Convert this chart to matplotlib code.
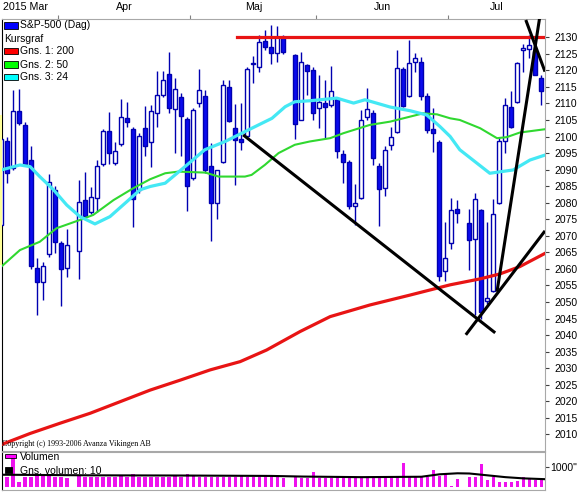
import numpy as np
import pandas as pd
import matplotlib
matplotlib.use("Agg")
import matplotlib.pyplot as plt
from matplotlib.patches import Rectangle

plt.rcParams['font.family'] = ['Liberation Sans', 'DejaVu Sans']

# trading days Mar 18 - Jul 22 2015; holidays leave an empty weekday slot
start = '2015-03-18'
holidays = ['2015-04-03', '2015-05-25', '2015-07-03']
days = [d for d in pd.bdate_range(start, '2015-07-22') if d.strftime('%Y-%m-%d') not in holidays]

opens = [2073.3, 2098.5, 2090.4, 2107.7, 2103.5, 2092.9, 2060.4, 2056.2, 2064.4, 2083.9, 2067.8, 2060.4,
         2065.4, 2080.8, 2077.1, 2081.4, 2091.6, 2101.7, 2092.1, 2097.7, 2105.7, 2102.3, 2083.9, 2102.7,
         2098.2, 2107.0, 2112.4, 2118.9, 2108.2, 2111.9, 2105.3, 2087.4, 2110.1, 2112.3, 2091.1, 2080.0,
         2092.2, 2114.9, 2102.5, 2099.3, 2100.3, 2121.8, 2120.9, 2128.9, 2127.0, 2125.2, 2129.9,
         2124.6, 2105.0, 2121.6, 2120.1, 2108.5, 2110.1, 2109.6, 2111.3, 2094.6, 2092.4, 2079.1, 2081.4,
         2106.0, 2107.0, 2091.1, 2084.4, 2097.3, 2101.5, 2120.4, 2112.1, 2122.6, 2122.6, 2112.1, 2102.2,
         2098.2, 2059.5, 2067.8, 2078.1,
         2073.8, 2069.0, 2077.8, 2050.3, 2053.2, 2080.0, 2098.5, 2108.8, 2110.3, 2126.2, 2126.4, 2125.7, 2117.6]
highs = [2101.0, 2100.0, 2114.1, 2114.4, 2104.5, 2097.0, 2063.2, 2062.0, 2088.6, 2085.0, 2068.5, 2072.0,
         2086.9, 2089.4, 2084.7, 2092.9, 2102.2, 2107.5, 2098.2, 2111.3, 2110.3, 2103.0, 2101.0, 2109.3,
         2109.6, 2119.8, 2119.8, 2125.4, 2117.6, 2113.1, 2106.0, 2108.5, 2120.3, 2114.0, 2098.0, 2090.0,
         2117.1, 2117.1, 2109.9, 2110.1, 2121.0, 2124.2, 2130.7, 2132.2, 2133.7, 2133.5, 2130.7,
         2125.0, 2125.5, 2122.0, 2121.0, 2118.6, 2117.1, 2121.3, 2112.0, 2096.0, 2093.0, 2085.7, 2108.0,
         2114.6, 2108.0, 2092.0, 2097.0, 2103.0, 2126.0, 2121.0, 2129.2, 2125.2, 2124.0, 2113.0, 2108.5,
         2099.0, 2074.3, 2081.4, 2080.8,
         2078.0, 2083.0, 2078.0, 2074.3, 2081.0, 2100.0, 2111.6, 2113.9, 2122.6, 2128.0, 2130.7, 2128.9, 2118.5]
lows = [2072.0, 2085.9, 2090.0, 2103.5, 2091.0, 2060.0, 2046.1, 2050.6, 2063.5, 2064.7, 2048.9, 2057.7,
        2056.9, 2075.5, 2076.5, 2077.3, 2091.0, 2091.7, 2091.5, 2097.0, 2102.8, 2072.6, 2083.0, 2094.1,
        2090.9, 2103.0, 2112.0, 2107.0, 2095.0, 2094.0, 2077.6, 2087.0, 2109.0, 2089.0, 2068.3, 2075.1,
        2092.0, 2104.5, 2085.4, 2096.0, 2100.0, 2116.3, 2119.4, 2126.0, 2121.9, 2122.6, 2125.0,
        2099.2, 2105.0, 2112.6, 2105.0, 2102.5, 2099.5, 2109.0, 2093.5, 2085.9, 2078.0, 2073.3, 2081.0,
        2105.0, 2091.4, 2073.0, 2082.1, 2096.0, 2101.0, 2109.0, 2112.0, 2119.6, 2111.0, 2101.0, 2095.4,
        2056.5, 2056.5, 2066.0, 2073.8,
        2059.7, 2046.0, 2045.0, 2049.5, 2053.0, 2079.5, 2095.0, 2102.5, 2110.0, 2119.6, 2123.7, 2118.6, 2109.6]
closes = [2099.2, 2088.9, 2107.7, 2104.0, 2091.7, 2060.9, 2056.2, 2061.0, 2086.2, 2068.0, 2059.9, 2067.2,
          2080.3, 2076.1, 2081.6, 2091.1, 2101.7, 2094.9, 2095.7, 2106.0, 2104.5, 2081.1, 2100.2, 2097.0,
          2107.8, 2112.6, 2117.1, 2108.5, 2114.3, 2106.3, 2085.2, 2108.0, 2114.1, 2089.9, 2080.0, 2089.9,
          2115.6, 2104.8, 2098.8, 2098.2, 2120.4, 2122.3, 2128.5, 2126.9, 2125.2, 2130.0, 2125.4,
          2103.8, 2122.6, 2119.9, 2107.0, 2110.3, 2109.0, 2113.8, 2095.6, 2092.4, 2079.1, 2080.0, 2105.0,
          2108.2, 2093.6, 2084.2, 2096.0, 2100.0, 2120.6, 2109.2, 2122.1, 2123.7, 2112.1, 2102.0, 2101.0,
          2057.9, 2063.2, 2077.8, 2076.8,
          2068.8, 2081.0, 2047.1, 2051.3, 2076.6, 2098.5, 2109.6, 2103.0, 2122.1, 2126.6, 2127.7, 2118.6, 2113.8]
volume = [490, 490, 1470, 245, 520, 490, 600, 555, 650, 520, 490, 440,
          555, 490, 490, 490, 520, 520, 490, 555, 490, 650, 520, 520,
          520, 490, 520, 520, 600, 520, 650, 555, 520, 520, 520, 490,
          520, 490, 520, 555, 490, 490, 520, 490, 490, 490, 440,
          490, 455, 455, 735, 455, 455, 455, 490, 520, 490, 455, 490,
          455, 490, 455, 455, 455, 520, 1220, 490, 490, 490, 520, 865,
          570, 650, 80, 410,
          520, 490, 1140, 360, 490, 245, 245, 245, 290, 520, 410, 360, 360]

# moving averages (day index, value)
ma200_x = [-0.2, 4.8, 9.8, 14.8, 19.8, 24.8, 29.8, 34.8, 39.8, 44.2, 49.8, 54.8, 61.4, 68.1, 74.8, 79.8, 83.1, 86.4, 90.6]
ma200_y = [2006.8, 2010.3, 2013.4, 2016.4, 2019.9, 2023.4, 2026.4, 2029.5, 2032.0, 2035.5, 2041.1, 2045.6,
           2049.1, 2052.1, 2055.2, 2057.0, 2058.5, 2060.7, 2064.7]
ma50_x = [0.0, 3.1, 6.4, 9.2, 13.1, 15.3, 18.7, 22.0, 24.8, 27.3, 29.5, 34.0, 36.2, 40.6, 41.7, 43.9, 46.2,
          48.9, 51.4, 54.8, 57.0, 61.4, 64.8, 68.1, 70.3, 72.6, 74.8, 76.4, 79.8, 82.6, 84.2, 86.4, 90.6]
ma50_y = [2060.7, 2065.7, 2068.2, 2072.3, 2074.8, 2076.3, 2080.8, 2084.4, 2087.1, 2088.9, 2089.4, 2089.1,
          2087.9, 2087.9, 2088.4, 2091.4, 2095.0, 2097.5, 2098.5, 2099.5, 2101.0, 2103.5, 2104.5, 2106.0,
          2107.0, 2106.7, 2105.5, 2105.0, 2102.5, 2099.5, 2099.8, 2101.2, 2102.2]
ma24_x = [0.0, 3.1, 4.8, 6.4, 8.7, 10.9, 13.1, 15.6, 18.1, 20.9, 23.1, 24.8, 27.3, 30.6, 33.9, 37.3, 39.5,
          42.3, 45.1, 47.3, 48.9, 51.4, 55.9, 58.7, 60.6, 64.8, 68.1, 70.9, 73.1, 74.8, 76.4, 81.4, 85.3,
          88.1, 90.6]
ma24_y = [2089.9, 2091.4, 2090.9, 2087.9, 2083.9, 2079.3, 2075.8, 2073.6, 2075.8, 2080.3, 2083.9, 2084.9,
          2085.9, 2090.9, 2096.0, 2098.5, 2100.5, 2103.0, 2105.5, 2109.0, 2110.5, 2110.8, 2111.6, 2110.1,
          2111.1, 2108.9, 2107.8, 2106.5, 2103.0, 2100.0, 2096.0, 2088.9, 2089.9, 2092.9, 2094.4]
volma_x = [0, 15, 30, 45, 50, 60, 70, 73, 76, 78, 80, 82, 84, 87, 90.6]
volma_y = [620, 590, 580, 560, 530, 500, 520, 640, 690, 680, 620, 560, 500, 440, 400]

# drawn trend lines: ((day, price), (day, price))
trendlines = [((40.3, 2100.5), (82.3, 2040.7)),
              ((77.4, 2040.1), (90.6, 2071.5)),
              ((82.6, 2053.1), (89.7, 2135.8)),
              ((87.4, 2135.2), (90.6, 2119.6))]
resistance = 2130.0
resistance_from = 39.2

month_edges = [9.5, 31.5, 52.5, 74.5]
month_names = ['Apr', 'Maj', 'Jun', 'Jul']

W, H = 580, 492
def fx(px):
    return px / W
def fy(py):
    return 1 - py / H

x = np.array([np.busday_count(start, d.strftime('%Y-%m-%d')) for d in days])
o, h, l, c = map(np.array, (opens, highs, lows, closes))
xmin, xmax = 0.06, 90.6

fig = plt.figure(figsize=(W / 100, H / 100), dpi=100)
ax = fig.add_axes([fx(1.7), fy(451), fx(545) - fx(1.7), fy(19) - fy(451)])
axv = fig.add_axes([fx(1.7), fy(490), fx(545) - fx(1.7), fy(452) - fy(490)])

# candles
blue, navy = '#0a0aee', '#0000b0'
ax.vlines(x, l, h, color=navy, lw=1, zorder=2)
up = c >= o
ax.bar(x[up], c[up] - o[up], bottom=o[up], width=0.68, color='white', edgecolor=navy, lw=1, zorder=3)
ax.bar(x[~up], o[~up] - c[~up], bottom=c[~up], width=0.68, color=blue, edgecolor=navy, lw=1, zorder=3)

ax.plot(ma200_x, ma200_y, color='#e81414', lw=2.3, zorder=4)
ax.plot(ma50_x, ma50_y, color='#30d830', lw=1.5, zorder=4)
ax.plot(ma24_x, ma24_y, color='#44e8f4', lw=2.3, zorder=4)
ax.plot([resistance_from, xmax], [resistance, resistance], color='#e81414', lw=2.3, zorder=5)
for (x0, y0), (x1, y1) in trendlines:
    ax.plot([x0, x1], [y0, y1], color='black', lw=2.2, zorder=6, solid_capstyle='butt')

ax.set_xlim(xmin, xmax)
ax.set_ylim(2005.0, 2135.5)
ax.yaxis.tick_right()
ax.set_yticks(range(2010, 2131, 5))
ax.tick_params(axis='y', direction='out', length=3, pad=3.5, labelsize=7.5, color='#404040')
ax.xaxis.tick_top()
ax.set_xticks(month_edges)
ax.set_xticklabels([])
ax.tick_params(axis='x', direction='out', length=3, color='#808080')
for side in ['top', 'right', 'bottom']:
    ax.spines[side].set_color('#a8a8a8')
ax.spines['left'].set_color('black')

# month names centred over each month
centres = [(a + b) / 2 for a, b in zip(month_edges, month_edges[1:] + [xmax])]
for cx, name in zip(centres, month_names):
    ax.annotate(name, (cx, 1), xycoords=('data', 'axes fraction'), xytext=(0, 8.5),
                textcoords='offset points', ha='center', va='center', fontsize=7.7)
fig.text(fx(3), fy(7.5), '2015 Mar', ha='left', va='center', fontsize=7.7)

# legend block top-left
legend = [('S&P-500 (Dag)', '#0000ff', 25.5), ('Kursgraf', None, 39), ('Gns. 1: 200', '#ff0000', 51.2),
          ('Gns. 2: 50', '#00ff00', 64.5), ('Gns. 3: 24', '#00ffff', 77)]
for label, col, yy in legend:
    if col is None:
        fig.text(fx(4), fy(yy), label, ha='left', va='center', fontsize=7.5)
    else:
        fig.add_artist(Rectangle((fx(4), fy(yy + 3)), fx(14), 6 / H, transform=fig.transFigure,
                                 facecolor=col, edgecolor='black', lw=0.6))
        fig.text(fx(20.5), fy(yy), label, ha='left', va='center', fontsize=7.5)

fig.text(fx(2), fy(444.3), 'Copyright (c) 1993-2006 Avanza Vikingen AB', ha='left', va='center',
         fontsize=5.8, family=['Liberation Serif', 'DejaVu Serif'])
fig.add_artist(Rectangle((0, fy(265)), fx(1.7), 150 / H, transform=fig.transFigure,
                         facecolor='#ffff99', edgecolor='none'))

# volume panel
axv.bar(x, volume, width=0.62, color='#ee11ee', zorder=2)
axv.plot(volma_x, volma_y, color='black', lw=1.5, zorder=3)
axv.set_xlim(xmin, xmax)
axv.set_ylim(-133, 1739)
axv.set_xticks([])
axv.yaxis.tick_right()
axv.set_yticks([1000])
axv.set_yticklabels(['1000"'])
axv.tick_params(axis='y', direction='out', length=3, pad=1, labelsize=7.5, color='#404040')
for side in axv.spines:
    axv.spines[side].set_color('#a8a8a8')
axv.spines['left'].set_color('black')

fig.add_artist(Rectangle((fx(5), fy(458)), fx(11), 4 / H, transform=fig.transFigure,
                         facecolor='#ff00ff', edgecolor='black', lw=0.6))
fig.text(fx(20), fy(456.5), 'Volumen', ha='left', va='center', fontsize=7.5)
fig.add_artist(Rectangle((fx(5), fy(472.5)), fx(7), 6 / H, transform=fig.transFigure,
                         facecolor='black', edgecolor='black', lw=0.6))
fig.text(fx(20), fy(470.5), 'Gns. volumen: 10', ha='left', va='center', fontsize=7.5)

fig.savefig('out.png', dpi=100)
